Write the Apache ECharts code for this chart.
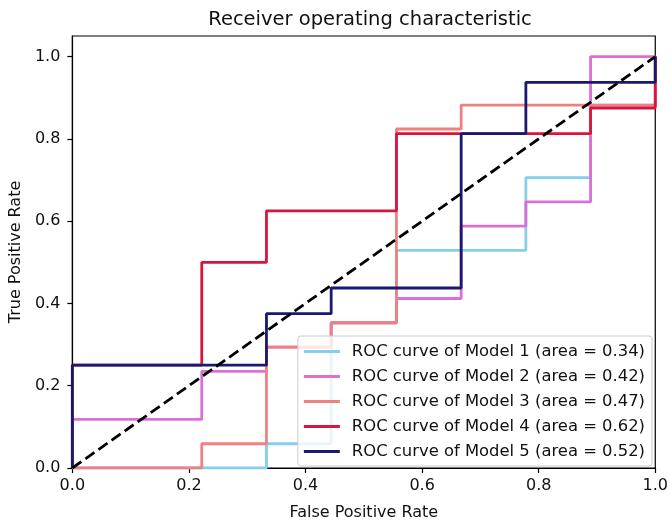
<!DOCTYPE html>
<html>
<head>
<meta charset="utf-8">
<script src="https://cdn.jsdelivr.net/npm/echarts@6/dist/echarts.min.js"></script>
<style>html,body{margin:0;padding:0;background:#fff}#c{width:671px;height:526px}</style>
</head>
<body>
<div id="c"></div>
<script>
var modelNames = ['ROC curve of Model 1 (area = 0.34)','ROC curve of Model 2 (area = 0.42)','ROC curve of Model 3 (area = 0.47)','ROC curve of Model 4 (area = 0.62)','ROC curve of Model 5 (area = 0.52)'];
var fpr1 = [0, 0.333, 0.333, 0.444, 0.444, 0.556, 0.556, 0.778, 0.778, 0.889, 0.889, 1, 1];
var tpr1 = [0, 0, 0.059, 0.059, 0.353, 0.353, 0.529, 0.529, 0.706, 0.706, 0.882, 0.882, 1];
var fpr2 = [0, 0, 0.222, 0.222, 0.333, 0.333, 0.444, 0.444, 0.556, 0.556, 0.667, 0.667, 0.778, 0.778, 0.889, 0.889, 1];
var tpr2 = [0, 0.118, 0.118, 0.235, 0.235, 0.294, 0.294, 0.353, 0.353, 0.412, 0.412, 0.588, 0.588, 0.647, 0.647, 1, 1];
var fpr3 = [0, 0.222, 0.222, 0.333, 0.333, 0.444, 0.444, 0.556, 0.556, 0.667, 0.667, 1, 1];
var tpr3 = [0, 0, 0.059, 0.059, 0.294, 0.294, 0.353, 0.353, 0.824, 0.824, 0.882, 0.882, 1];
var fpr4 = [0, 0, 0.222, 0.222, 0.333, 0.333, 0.556, 0.556, 0.889, 0.889, 1, 1];
var tpr4 = [0, 0.25, 0.25, 0.5, 0.5, 0.625, 0.625, 0.8125, 0.8125, 0.875, 0.875, 1];
var fpr5 = [0, 0, 0.333, 0.333, 0.444, 0.444, 0.667, 0.667, 0.778, 0.778, 1, 1];
var tpr5 = [0, 0.25, 0.25, 0.375, 0.375, 0.4375, 0.4375, 0.8125, 0.8125, 0.9375, 0.9375, 1];
var chanceX = [0, 1];
var chanceY = [0, 1];
var tickValues = [0, 0.2, 0.4, 0.6, 0.8, 1.0];

var colors = ['#87CEEB', '#DA70D6', '#F08080', '#DC143C', '#191970'];
var fprs = [fpr1, fpr2, fpr3, fpr4, fpr5];
var tprs = [tpr1, tpr2, tpr3, tpr4, tpr5];
function pairs(xs, ys) { return xs.map(function (x, i) { return [x, ys[i]]; }); }

var FONT = 'DejaVu Sans';
var series = fprs.map(function (f, i) {
  return {
    name: modelNames[i], type: 'line', data: pairs(f, tprs[i]),
    symbol: 'none', showSymbol: false, z: 2 + i,
    lineStyle: { color: colors[i], width: 2.8 },
    itemStyle: { color: colors[i] }
  };
});
series.push({
  name: 'chance', type: 'line', data: pairs(chanceX, chanceY), symbol: 'none', z: 10,
  lineStyle: { color: '#000', width: 2.8, type: [11, 5] }
});

var chart = echarts.init(document.getElementById('c'), null, { renderer: 'canvas' });
chart.setOption({
  animation: false,
  backgroundColor: '#fff',
  textStyle: { fontFamily: FONT },
  title: {
    text: 'Receiver operating characteristic', left: 365, top: 5, textAlign: 'center',
    textStyle: { fontFamily: FONT, fontSize: 19.5, fontWeight: 'normal', color: '#111' }
  },
  grid: { left: 72, right: 12, top: 36, bottom: 53, show: true, borderColor: '#000', borderWidth: 1.2, backgroundColor: 'transparent' },
  xAxis: {
    type: 'value', min: 0, max: 1, interval: 0.2,
    name: 'False Positive Rate', nameLocation: 'middle', nameGap: 37,
    nameTextStyle: { fontFamily: FONT, fontSize: 16, color: '#111' },
    axisLine: { show: true, lineStyle: { color: '#000', width: 1.2 } },
    axisTick: { show: true, inside: false, length: 5, lineStyle: { color: '#000', width: 1.2 } },
    axisLabel: { margin: 10, fontFamily: FONT, fontSize: 16, color: '#111', formatter: function (v) { return v.toFixed(1); } },
    splitLine: { show: false }
  },
  yAxis: {
    type: 'value', min: 0, max: 1.05, interval: 0.2,
    name: 'True Positive Rate', nameLocation: 'middle', nameGap: 48,
    nameTextStyle: { fontFamily: FONT, fontSize: 16, color: '#111' },
    axisLine: { show: true, lineStyle: { color: '#000', width: 1.2 } },
    axisTick: { show: true, inside: false, length: 5, customValues: tickValues, lineStyle: { color: '#000', width: 1.2 } },
    axisLabel: { margin: 12, fontFamily: FONT, fontSize: 16, color: '#111', customValues: tickValues, formatter: function (v) { return v.toFixed(1); } },
    splitLine: { show: false }
  },
  legend: {
    data: modelNames, orient: 'vertical', right: 19, bottom: 60,
    padding: [6, 7, 5, 6], itemWidth: 36, itemHeight: 3, itemGap: 6,
    icon: 'rect',
    backgroundColor: 'rgba(255,255,255,0.8)', borderColor: '#cccccc', borderWidth: 1, borderRadius: 3,
    textStyle: { fontFamily: FONT, fontSize: 16.4, color: '#111', lineHeight: 19, padding: [0, 0, 0, 7] },
    z: 20
  },
  series: series
});
</script>
</body>
</html>
